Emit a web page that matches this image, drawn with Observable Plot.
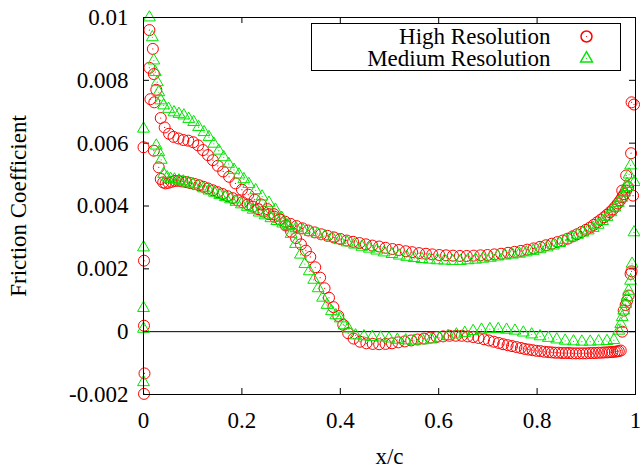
<!DOCTYPE html>
<html><head><meta charset="utf-8">
<script src="https://cdn.jsdelivr.net/npm/d3@7"></script>
<script src="https://cdn.jsdelivr.net/npm/@observablehq/plot@0.6"></script>
<style>html,body{margin:0;padding:0;background:#fff;}</style>
</head><body><div id="chart"></div>
<script>
const seriesNames = ["High Resolution", "Medium Resolution"];
const colors = ["#ff0000", "#00e600"];
const xTicks = [0, 0.2, 0.4, 0.6, 0.8, 1];
const xTickLabels = ["0", "0.2", "0.4", "0.6", "0.8", "1"];
const yTicks = [-0.002, 0, 0.002, 0.004, 0.006, 0.008, 0.01];
const yTickLabels = ["-0.002", "0", "0.002", "0.004", "0.006", "0.008", "0.01"];
const xLabel = "x/c";
const yLabel = "Friction Coefficient";

// High resolution, upper (separating) side incl. leading/trailing edge points
const hiUpperX = [0.012,0.019,0.012,0.021,0.026,0.014,0.022,0.035,0.043,0.052,0.061,0.071,0.081,0.091,0.101,0.111,0.121,0.131,0.141,0.151,0.162,0.174,0.187,0.200,0.213,0.226,0.239,0.252,0.265,0.277,0.289,0.300,0.310,0.320,0.330,0.339,0.349,0.359,0.368,0.377,0.386,0.396,0.406,0.416,0.427,0.440,0.453,0.466,0.479,0.492,0.505,0.518,0.531,0.544,0.557,0.570,0.583,0.596,0.609,0.622,0.635,0.647,0.659,0.670,0.681,0.692,0.702,0.712,0.722,0.731,0.740,0.749,0.758,0.767,0.775,0.783,0.791,0.799,0.807,0.815,0.823,0.830,0.837,0.844,0.851,0.858,0.865,0.872,0.879,0.886,0.893,0.900,0.907,0.913,0.919,0.925,0.931,0.937,0.943,0.948,0.953,0.958,0.962,0.966,0.970,0.973,0.976,0.980,0.983,0.986,0.990,0.992,0.991,0.995,0.992,0.997];
const hiUpperCf = [0.0096,0.0090,0.0084,0.0082,0.0077,0.0074,0.0073,0.0068,0.0065,0.0063,0.0062,0.00615,0.0061,0.00608,0.00603,0.00593,0.00578,0.00562,0.00546,0.00528,0.0051,0.00493,0.00472,0.00452,0.00436,0.0042,0.00405,0.0039,0.00374,0.00357,0.00338,0.00318,0.00298,0.00278,0.00258,0.00238,0.00205,0.00172,0.00138,0.00108,0.00078,0.0005,0.00022,-0.00005,-0.00022,-0.00032,-0.00037,-0.00039,-0.0004,-0.00039,-0.00037,-0.00034,-0.00031,-0.00028,-0.00025,-0.00022,-0.00019,-0.00017,-0.00015,-0.00013,-0.00013,-0.00013,-0.00015,-0.00017,-0.0002,-0.00024,-0.00028,-0.00032,-0.00036,-0.0004,-0.00043,-0.00046,-0.00049,-0.00052,-0.00055,-0.00057,-0.00059,-0.00061,-0.00062,-0.00064,-0.00065,-0.00066,-0.00067,-0.00067,-0.00068,-0.00068,-0.00068,-0.00069,-0.00069,-0.00069,-0.00069,-0.00069,-0.00068,-0.00068,-0.00068,-0.00067,-0.00067,-0.00066,-0.00066,-0.00065,-0.00065,-0.00064,-0.00063,-0.00062,-0.0006,0.0,0.00067,0.00085,0.00099,0.00115,0.00184,0.00192,0.00568,0.00433,0.0073,0.00723];

// High resolution, lower side
const hiLowerX = [0.000,0.001,0.001,0.002,0.001,0.021,0.031,0.035,0.040,0.045,0.051,0.057,0.064,0.071,0.079,0.087,0.095,0.104,0.113,0.122,0.131,0.141,0.151,0.161,0.171,0.181,0.191,0.201,0.212,0.222,0.233,0.244,0.255,0.266,0.277,0.288,0.299,0.311,0.323,0.335,0.348,0.361,0.374,0.387,0.400,0.413,0.426,0.439,0.452,0.465,0.479,0.492,0.506,0.519,0.533,0.546,0.560,0.574,0.587,0.601,0.615,0.629,0.643,0.657,0.671,0.685,0.699,0.713,0.727,0.741,0.754,0.767,0.780,0.793,0.806,0.818,0.830,0.841,0.852,0.862,0.872,0.881,0.890,0.899,0.907,0.915,0.922,0.929,0.936,0.942,0.948,0.954,0.959,0.964,0.969,0.973,0.977,0.981,0.985,0.973,0.981];
const hiLowerCf = [0.00587,0.00226,0.00019,-0.00133,-0.00198,0.00576,0.00523,0.00486,0.00475,0.00472,0.00474,0.00477,0.0048,0.0048,0.00478,0.00476,0.00473,0.0047,0.00466,0.00461,0.00456,0.0045,0.00444,0.00438,0.00431,0.00425,0.00418,0.00412,0.00405,0.00398,0.0039,0.00382,0.00374,0.00366,0.00358,0.0035,0.00343,0.00336,0.00329,0.00322,0.00316,0.0031,0.00305,0.003,0.00295,0.0029,0.00286,0.00282,0.00278,0.00274,0.00271,0.00267,0.00263,0.0026,0.00256,0.00253,0.0025,0.00248,0.00246,0.00244,0.00243,0.00242,0.00241,0.00241,0.00242,0.00243,0.00244,0.00246,0.00248,0.00251,0.00254,0.00257,0.00261,0.00265,0.0027,0.00275,0.0028,0.00285,0.0029,0.00296,0.00303,0.0031,0.00317,0.00324,0.00331,0.0034,0.00348,0.00356,0.00364,0.00372,0.0038,0.00389,0.00398,0.00408,0.00418,0.00428,0.00438,0.00449,0.0046,0.00449,0.00497];

// Medium resolution, upper (separating) side incl. trailing edge points
const medUpperX = [0.012,0.018,0.021,0.024,0.028,0.031,0.035,0.041,0.051,0.062,0.072,0.082,0.092,0.102,0.112,0.123,0.133,0.143,0.153,0.163,0.173,0.184,0.194,0.204,0.214,0.228,0.241,0.255,0.268,0.281,0.292,0.300,0.309,0.319,0.328,0.337,0.346,0.355,0.364,0.373,0.382,0.391,0.400,0.408,0.416,0.431,0.448,0.465,0.482,0.499,0.516,0.533,0.550,0.567,0.585,0.602,0.619,0.636,0.653,0.670,0.687,0.704,0.721,0.738,0.755,0.772,0.789,0.806,0.823,0.840,0.857,0.874,0.891,0.908,0.925,0.942,0.956,0.966,0.970,0.973,0.976,0.980,0.983,0.986,0.990,0.993,0.997,0.998,0.987,0.990,0.983];
const medUpperCf = [0.0100,0.00937,0.00863,0.00826,0.00794,0.00762,0.00736,0.0072,0.00709,0.00698,0.00693,0.00688,0.00677,0.00667,0.00651,0.00635,0.00619,0.00598,0.00576,0.00555,0.00534,0.00515,0.005,0.00485,0.0047,0.0045,0.0043,0.0041,0.00388,0.00362,0.00338,0.00311,0.00279,0.00245,0.00215,0.00192,0.00165,0.00138,0.00108,0.00085,0.00065,0.00052,0.00042,0.0002,0.0001,-0.00012,-0.00015,-0.00017,-0.00019,-0.00022,-0.00026,-0.00028,-0.00029,-0.00028,-0.00025,-0.0002,-0.00014,-0.00009,-0.00004,0.00002,0.00006,0.00008,0.00008,0.00006,0.00003,-0.00003,-0.00009,-0.00015,-0.0002,-0.00025,-0.00029,-0.00031,-0.00032,-0.00032,-0.00031,-0.0003,-0.00027,0.00003,0.00024,0.00046,0.00067,0.00088,0.00109,0.0013,0.00162,0.00216,0.00316,0.00476,0.0050,0.00529,0.0047];

// Medium resolution, lower side
const medLowerX = [0.000,0.000,0.000,0.000,0.000,0.026,0.031,0.036,0.041,0.048,0.055,0.063,0.072,0.081,0.091,0.101,0.111,0.122,0.133,0.144,0.155,0.166,0.177,0.188,0.199,0.211,0.223,0.235,0.247,0.259,0.271,0.283,0.296,0.310,0.324,0.339,0.354,0.369,0.384,0.399,0.414,0.429,0.444,0.459,0.474,0.489,0.505,0.520,0.535,0.550,0.566,0.581,0.597,0.612,0.628,0.644,0.659,0.675,0.690,0.705,0.720,0.735,0.750,0.764,0.778,0.792,0.806,0.820,0.833,0.846,0.858,0.870,0.882,0.893,0.904,0.914,0.924,0.933,0.942,0.950,0.958,0.965,0.972,0.978,0.983];
const medLowerCf = [0.00646,0.00268,0.00075,0.00009,-0.00161,0.00592,0.00571,0.00547,0.00502,0.00491,0.00486,0.00484,0.00481,0.00478,0.00474,0.00469,0.00463,0.00456,0.00449,0.00442,0.00435,0.00428,0.00421,0.00413,0.00405,0.00397,0.00388,0.00379,0.0037,0.00361,0.00352,0.00344,0.00336,0.00329,0.00323,0.00317,0.00311,0.00304,0.00298,0.00291,0.00284,0.00277,0.0027,0.00264,0.00258,0.00252,0.00247,0.00242,0.00238,0.00234,0.00231,0.00229,0.00227,0.00226,0.00225,0.00225,0.00227,0.00229,0.00232,0.00235,0.00239,0.00242,0.00245,0.00248,0.00252,0.00257,0.00262,0.00268,0.00274,0.00282,0.00292,0.003,0.00308,0.00315,0.00322,0.0033,0.0034,0.00352,0.00365,0.0038,0.00395,0.0041,0.00426,0.00443,0.0046];

const W = 640, H = 468, mL = 143, mR = 5, mT = 17, mB = 74;
const fw = W - mL - mR, fh = H - mT - mB;
const rows = (xs, ys, s) => xs.map((x, i) => ({x, cf: ys[i], series: s}));
const hi = [...rows(hiUpperX, hiUpperCf, seriesNames[0]), ...rows(hiLowerX, hiLowerCf, seriesNames[0])];
const med = [...rows(medUpperX, medUpperCf, seriesNames[1]), ...rows(medLowerX, medLowerCf, seriesNames[1])];
const font = "Liberation Serif";
const fs = 23;
const txt = {fontFamily: font, fontSize: fs, fill: "black", lineAnchor: "middle"};

const chart = Plot.plot({
  width: W, height: H,
  marginLeft: mL, marginRight: mR, marginTop: mT, marginBottom: mB,
  style: {background: "white", color: "black", overflow: "visible"},
  x: {domain: [0, 1]},
  y: {domain: [-0.002, 0.01]},
  marks: [
    Plot.ruleY([0], {stroke: "black", strokeWidth: 1}),
    Plot.tickX(xTicks, {x: d => d, insetTop: fh - 6, stroke: "black"}),
    Plot.tickX(xTicks, {x: d => d, insetBottom: fh - 6, stroke: "black"}),
    Plot.tickY(yTicks, {y: d => d, insetRight: fw - 6, stroke: "black"}),
    Plot.tickY(yTicks, {y: d => d, insetLeft: fw - 6, stroke: "black"}),
    Plot.axisX(xTicks, {tickSize: 0, tickPadding: 17, tickFormat: d => xTickLabels[xTicks.indexOf(d)], label: null, fontFamily: font, fontSize: fs}),
    Plot.axisY(yTicks, {tickSize: 0, tickPadding: 15, tickFormat: d => yTickLabels[yTicks.indexOf(d)], label: null, fontFamily: font, fontSize: fs}),
    Plot.dot(hi, {x: "x", y: "cf", r: 5.5, stroke: colors[0], strokeWidth: 1}),
    Plot.dot(hi, {x: "x", y: "cf", r: 0.6, fill: colors[0]}),
    Plot.dot(med, {x: "x", y: "cf", r: 4.4, symbol: "triangle", stroke: colors[1], strokeWidth: 1}),
    Plot.dot(med, {x: "x", y: "cf", r: 0.6, fill: colors[1]}),
    Plot.frame({stroke: "black"}),
    Plot.frame({insetLeft: 168, insetTop: 6, insetRight: 15, insetBottom: 324, stroke: "black"}),
    Plot.text([seriesNames[0]], {frameAnchor: "top-right", dx: -85, dy: 19, textAnchor: "end", ...txt}),
    Plot.text([seriesNames[1]], {frameAnchor: "top-right", dx: -85, dy: 41, textAnchor: "end", ...txt}),
    Plot.dot([seriesNames[0]], {frameAnchor: "top-right", dx: -49, dy: 19, r: 5.5, stroke: colors[0]}),
    Plot.dot([seriesNames[0]], {frameAnchor: "top-right", dx: -49, dy: 19, r: 0.6, fill: colors[0]}),
    Plot.dot([seriesNames[1]], {frameAnchor: "top-right", dx: -49, dy: 41, r: 4.4, symbol: "triangle", stroke: colors[1]}),
    Plot.dot([seriesNames[1]], {frameAnchor: "top-right", dx: -49, dy: 41, r: 0.6, fill: colors[1]}),
    Plot.text([xLabel], {frameAnchor: "bottom", dy: 62, textAnchor: "middle", ...txt}),
    Plot.text([yLabel], {frameAnchor: "left", dx: -125, rotate: -90, textAnchor: "middle", ...txt})
  ]
});
chart.querySelectorAll("text").forEach(t => {
  t.setAttribute("font-family", "Liberation Serif");
  t.setAttribute("font-size", String(fs));
});
document.getElementById("chart").appendChild(chart);
</script>
</body></html>
